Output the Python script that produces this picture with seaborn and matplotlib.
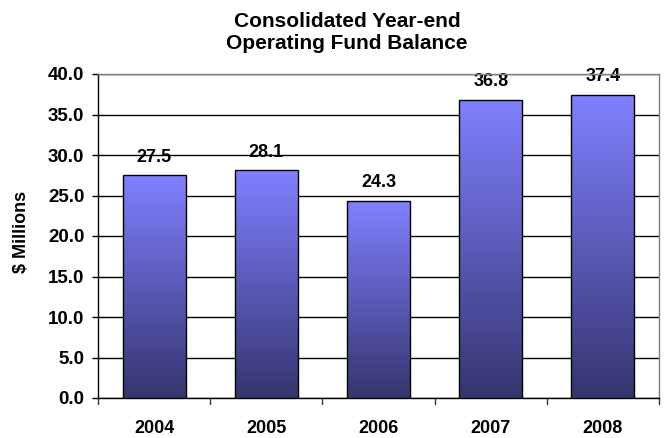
import numpy as np
import pandas as pd
import matplotlib
matplotlib.use("Agg")
import matplotlib.pyplot as plt
import seaborn as sns
from matplotlib.colors import LinearSegmentedColormap

years = ["2004", "2005", "2006", "2007", "2008"]
values = [27.5, 28.1, 24.3, 36.8, 37.4]
yticks = [0, 5, 10, 15, 20, 25, 30, 35, 40]

sns.set_theme(style="white")
plt.rcParams['font.family'] = ['Liberation Sans', 'DejaVu Sans']
plt.rcParams['font.weight'] = 'bold'
for k in ['text.color', 'axes.labelcolor', 'xtick.color', 'ytick.color']:
    plt.rcParams[k] = 'black'

df = pd.DataFrame({"year": years, "value": values})

fig = plt.figure(figsize=(6.66, 4.38), dpi=100)
ax = fig.add_axes([98/666, 1-398/438, (659-98)/666, (398-74)/438])

sns.barplot(data=df, x="year", y="value", ax=ax, width=0.56,
            color="#8080ff", edgecolor="black", linewidth=1.0, zorder=3)

cmap = LinearSegmentedColormap.from_list("g", ["#353570", "#8080ff"])
grad = np.linspace(0, 1, 256).reshape(-1, 1)
for p in ax.patches:
    x0, y0 = p.get_x(), p.get_y()
    w, h = p.get_width(), p.get_height()
    im = ax.imshow(grad, cmap=cmap, origin="lower", aspect="auto",
                   extent=[x0, x0 + w, y0, y0 + h], zorder=3.5)
    im.set_clip_path(p)
    p.set_facecolor("none")
    p.set_zorder(4)

FS = 13
ax.set_xlim(-0.5, len(years) - 0.5)
ax.set_ylim(0, 40)
ax.set_yticks(yticks)
ax.set_yticklabels([f"{v:.1f}" for v in yticks], fontsize=13.5, fontweight="bold")
ax.set_xticks(range(len(years)))
ax.set_xticklabels(years, fontsize=FS, fontweight="bold")
ax.tick_params(axis="x", length=0, pad=16)
ax.tick_params(axis="y", length=4.3, width=1, color="black", direction="out", left=True, pad=5.5)
for b in np.arange(-0.5, len(years) - 0.4, 1.0):
    ax.plot([b, b], [0, -0.018], transform=ax.get_xaxis_transform(), color="#333333",
            lw=1, clip_on=False)

ax.yaxis.grid(True, color="black", linewidth=1.0, zorder=1)
ax.set_axisbelow(True)
ax.spines["left"].set_color("black")
ax.spines["bottom"].set_color("black")
ax.spines["top"].set_color("#808080")
ax.spines["right"].set_color("#808080")
for s in ax.spines.values():
    s.set_linewidth(1.0)

for i, v in enumerate(values):
    ax.annotate(f"{v:.1f}", (i, v), xytext=(0, 7), textcoords="offset points",
                ha="center", va="bottom", fontsize=FS, fontweight="bold",
                annotation_clip=False, zorder=0.5)

ax.set_xlabel("")
ax.set_ylabel("$ Millions", fontsize=FS, fontweight="bold")
ax.yaxis.set_label_coords(30/666, 1 - 232/438, transform=fig.transFigure)

fig.text(347/666, 1 - 32.5/438, "Consolidated Year-end\nOperating Fund Balance",
         ha="center", va="center", fontsize=15, fontweight="bold", linespacing=1.2)

fig.savefig("out.png", dpi=100)
